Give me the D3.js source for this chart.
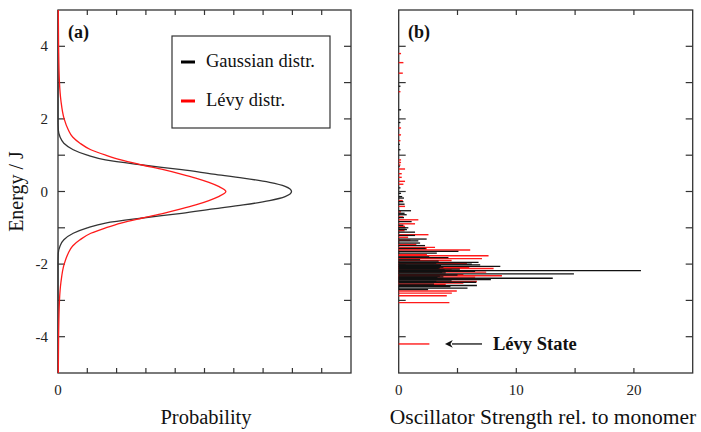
<!DOCTYPE html>
<html>
<head>
<meta charset="utf-8">
<script src="https://cdn.jsdelivr.net/npm/d3@7"></script>
<style>
  html, body { margin: 0; padding: 0; background: #fff; }
  svg { display: block; }
  svg text { font-family: "Liberation Serif", "DejaVu Serif", serif; }
</style>
</head>
<body>
<svg id="chart" width="701" height="432"></svg>
<script>
// ── Data ──────────────────────────────────────────────────────────────────
// Panel (a): probability density vs energy
const curveE     = [-5, -4, -3, -2.5, -2, -1.7, -1.5, -1.33, -1.15, -1, -0.87, -0.73, -0.6, -0.48, -0.37, -0.25, -0.14, 0,
                    0.14, 0.25, 0.37, 0.48, 0.6, 0.73, 0.87, 1, 1.15, 1.33, 1.5, 1.7, 2, 2.5, 3, 4, 5];
const gaussProb  = [0, 0, 0, 0, 0, 0.001, 0.007, 0.02, 0.052, 0.1, 0.162, 0.288, 0.422, 0.53, 0.632, 0.722, 0.775, 0.797,
                    0.775, 0.722, 0.632, 0.53, 0.422, 0.288, 0.162, 0.1, 0.052, 0.02, 0.007, 0.001, 0, 0, 0, 0, 0];
const levyProb   = [0.001, 0.002, 0.005, 0.01, 0.021, 0.035, 0.05, 0.075, 0.112, 0.163, 0.215, 0.288, 0.36, 0.42, 0.47, 0.515, 0.548, 0.573,
                    0.548, 0.515, 0.47, 0.42, 0.36, 0.288, 0.215, 0.163, 0.112, 0.075, 0.05, 0.035, 0.021, 0.01, 0.005, 0.002, 0.001];

// Panel (b): oscillator strengths (stick spectra)
const blackE = [2.9, 2.25, 1.9, 1.3, 1.15, 0.7, 0.1, -0.05, -0.14, -0.18, -0.28, -0.35, -0.53, -0.6, -0.64, -0.72, -0.83, -0.93, -1.0,
                -1.05, -1.12, -1.21, -1.31, -1.36, -1.42, -1.49, -1.57, -1.65, -1.7, -1.8, -1.82, -1.88, -1.92, -1.95, -1.97, -2.0, -2.02,
                -2.04, -2.06, -2.08, -2.1, -2.12, -2.14, -2.16, -2.18, -2.2, -2.22, -2.24, -2.27, -2.3, -2.33, -2.35, -2.37, -2.39,
                -2.41, -2.43, -2.46, -2.48, -2.5, -2.55, -2.59, -2.62, -2.66, -2.7];
const blackF = [0.15, 0.2, 0.15, 0.1, 0.15, 0.1, 0.15, 0.2, 0.3, 0.45, 0.4, 0.5, 1.05, 0.5, 0.68, 0.45, 1.1, 0.4, 0.82,
                0.7, 1.39, 1.39, 2.38, 1.67, 1.82, 2.24, 2.3, 5.08, 3.24, 2.6, 4.23, 1.82, 3.4, 6.79, 3.2, 6.22, 6.93,
                3.6, 8.64, 3.8, 3.5, 3.4, 5.2, 3.9, 20.6, 6.5, 3.7, 4.0, 14.9, 5.0, 3.5, 3.8, 3.3, 13.1,
                3.6, 7.84, 4.5, 3.2, 6.6, 3.0, 6.65, 4.4, 5.85, 2.5];
const redE   = [3.8, 3.55, 3.26, 2.75, 1.75, 1.56, 1.4, 0.87, 0.8, 0.73, 0.62, 0.49, 0.39, 0.28, 0.2, -0.25, -0.41, -0.56, -0.7,
                -0.78, -0.89, -0.96, -1.08, -1.19, -1.26, -1.34, -1.46, -1.54, -1.58, -1.61, -1.74, -1.77, -1.85, -1.9, -1.98,
                -2.04, -2.09, -2.12, -2.16, -2.22, -2.29, -2.32, -2.36, -2.41, -2.48, -2.52, -2.56, -2.74, -2.8, -2.87, -3.06, -4.2];
const redF   = [0.2, 0.4, 0.35, 0.15, 0.2, 0.2, 0.15, 0.2, 0.2, 0.15, 0.54, 0.26, 0.26, 0.54, 0.4, 0.35, 0.54, 0.2, 0.4,
                1.67, 1.39, 0.54, 0.5, 2.53, 0.8, 1.0, 1.5, 3.09, 2.4, 6.08, 2.4, 7.64, 7.08, 4.5, 5.8,
                3.0, 6.0, 8.07, 4.5, 7.44, 5.5, 8.78, 6.5, 6.2, 6.65, 5.5, 4.0, 4.94, 4.52, 4.09, 4.31, 2.61];

const energyTicks = [-4, -2, 0, 2, 4];
const strengthTicks = [0, 10, 20];
const legendLabels = ['Gaussian distr.', 'Lévy distr.'];
const seriesColors = ['#000000', '#ff0000'];

// ── Layout ────────────────────────────────────────────────────────────────
const svg = d3.select('#chart');
const plotTop = 10, plotBottom = 373;
const axisColor = '#333';

const yScale = d3.scaleLinear().domain([-5, 5]).range([plotBottom, plotTop]);
const xA = d3.scaleLinear().domain([0, 1]).range([58, 351]);
const xB = d3.scaleLinear().domain([0, 25]).range([398.7, 692.7]);

function frame(x, xMinorTicks, xLabels, yLabels) {
  const g = svg.append('g');
  const [x0, x1] = x.range();
  g.append('rect')
    .attr('x', x0).attr('y', plotTop)
    .attr('width', x1 - x0).attr('height', plotBottom - plotTop)
    .attr('fill', 'none').attr('stroke', axisColor).attr('stroke-width', 1.3);

  // y ticks (every unit, both sides, inward)
  d3.range(-4, 5).forEach(v => {
    const y = yScale(v);
    g.append('line').attr('x1', x0).attr('x2', x0 + 7).attr('y1', y).attr('y2', y)
      .attr('stroke', axisColor).attr('stroke-width', 1.2);
    g.append('line').attr('x1', x1).attr('x2', x1 - 7).attr('y1', y).attr('y2', y)
      .attr('stroke', axisColor).attr('stroke-width', 1.2);
  });
  // x ticks (top and bottom, inward)
  xMinorTicks.forEach(v => {
    const xx = x(v);
    g.append('line').attr('x1', xx).attr('x2', xx).attr('y1', plotBottom).attr('y2', plotBottom - 5)
      .attr('stroke', axisColor).attr('stroke-width', 1.2);
    g.append('line').attr('x1', xx).attr('x2', xx).attr('y1', plotTop).attr('y2', plotTop + 5)
      .attr('stroke', axisColor).attr('stroke-width', 1.2);
  });
  xLabels.forEach(v => {
    g.append('text').attr('x', x(v)).attr('y', 395)
      .attr('text-anchor', 'middle').attr('font-size', 15).attr('fill', '#222')
      .text(v);
  });
  if (yLabels) {
    yLabels.forEach(v => {
      g.append('text').attr('x', 48).attr('y', yScale(v) + 5)
        .attr('text-anchor', 'end').attr('font-size', 15).attr('fill', '#222')
        .text(v);
    });
  }
  return g;
}

// ── Panel (a) ─────────────────────────────────────────────────────────────
frame(xA, d3.range(1, 10).map(i => i / 10), [0], energyTicks);

const line = d3.line()
  .x(d => xA(d[1]))
  .y(d => yScale(d[0]))
  .curve(d3.curveMonotoneY);

[gaussProb, levyProb].forEach((probs, i) => {
  svg.append('path')
    .attr('d', line(curveE.map((e, k) => [e, probs[k]])))
    .attr('fill', 'none')
    .attr('stroke', i === 0 ? '#333' : '#ff1a1a')
    .attr('stroke-width', 1.3);
});

// legend
const leg = svg.append('g');
leg.append('rect').attr('x', 172).attr('y', 36).attr('width', 158).attr('height', 92)
  .attr('fill', '#fff').attr('stroke', axisColor).attr('stroke-width', 1.2);
legendLabels.forEach((lbl, i) => {
  const y = 62 + i * 39;
  leg.append('line').attr('x1', 181).attr('x2', 195).attr('y1', y).attr('y2', y)
    .attr('stroke', seriesColors[i]).attr('stroke-width', 3);
  leg.append('text').attr('x', 206).attr('y', y + 5)
    .attr('font-size', 18.5).attr('fill', '#111').text(lbl);
});

svg.append('text').attr('x', 68).attr('y', 38).attr('font-size', 18)
  .attr('font-weight', 'bold').attr('fill', '#111').text('(a)');

// ── Panel (b) ─────────────────────────────────────────────────────────────
frame(xB, [5, 10, 15, 20], strengthTicks, null);

const sticks = svg.append('g');
sticks.selectAll('.red')
  .data(redE.map((e, i) => [e, redF[i]]))
  .join('line')
  .attr('class', 'red')
  .attr('x1', xB(0)).attr('x2', d => xB(d[1]))
  .attr('y1', d => yScale(d[0])).attr('y2', d => yScale(d[0]))
  .attr('stroke', '#ff1a1a').attr('stroke-width', 1.4);

sticks.selectAll('.blk')
  .data(blackE.map((e, i) => [e, blackF[i]]))
  .join('line')
  .attr('class', 'blk')
  .attr('x1', xB(0)).attr('x2', d => xB(d[1]))
  .attr('y1', d => yScale(d[0])).attr('y2', d => yScale(d[0]))
  .attr('stroke', '#111').attr('stroke-width', 1.3);

svg.append('text').attr('x', 408).attr('y', 38).attr('font-size', 18)
  .attr('font-weight', 'bold').attr('fill', '#111').text('(b)');

// Lévy state annotation
const arrowY = yScale(-4.2);
svg.append('defs').append('marker')
  .attr('id', 'arrow').attr('viewBox', '0 0 10 10')
  .attr('refX', 1).attr('refY', 5)
  .attr('markerWidth', 8).attr('markerHeight', 6).attr('orient', 'auto')
  .append('path').attr('d', 'M0,0 L10,5 L0,10 L3,5 Z').attr('fill', '#111');
svg.append('line')
  .attr('x1', 482).attr('x2', 452).attr('y1', arrowY).attr('y2', arrowY)
  .attr('stroke', '#111').attr('stroke-width', 1.3)
  .attr('marker-end', 'url(#arrow)');
svg.append('text').attr('x', 493).attr('y', arrowY + 6)
  .attr('font-size', 18.5).attr('font-weight', 'bold').attr('fill', '#111')
  .text('Lévy State');

// ── Axis titles ───────────────────────────────────────────────────────────
svg.append('text')
  .attr('transform', `translate(23,${yScale(0)}) rotate(-90)`)
  .attr('text-anchor', 'middle').attr('font-size', 20).attr('fill', '#111')
  .text('Energy / J');

svg.append('text').attr('x', 206).attr('y', 424)
  .attr('text-anchor', 'middle').attr('font-size', 20.5).attr('fill', '#111')
  .text('Probability');

svg.append('text').attr('x', 543).attr('y', 424)
  .attr('text-anchor', 'middle').attr('font-size', 21.5).attr('fill', '#111')
  .text('Oscillator Strength rel. to monomer');
</script>
</body>
</html>
